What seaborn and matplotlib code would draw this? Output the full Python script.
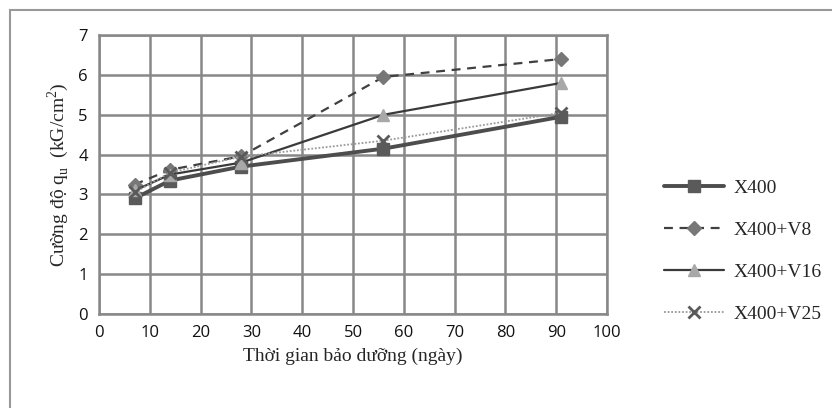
import matplotlib
matplotlib.use("Agg")
import matplotlib.pyplot as plt
import seaborn as sns
import pandas as pd
from matplotlib.patches import Rectangle

days = [7, 14, 28, 56, 91]
x400 = [2.9, 3.35, 3.7, 4.15, 4.95]
x400_v8 = [3.25, 3.62, 3.96, 5.95, 6.4]
x400_v16 = [3.1, 3.5, 3.8, 5.0, 5.8]
x400_v25 = [3.05, 3.55, 3.95, 4.35, 5.05]
series_names = ["X400", "X400+V8", "X400+V16", "X400+V25"]
x_ticks = [0, 10, 20, 30, 40, 50, 60, 70, 80, 90, 100]
y_ticks = [0, 1, 2, 3, 4, 5, 6, 7]

rows = []
for name, vals in zip(series_names, [x400, x400_v8, x400_v16, x400_v25]):
    for d, v in zip(days, vals):
        rows.append({"day": d, "value": v, "series": name})
df = pd.DataFrame(rows)

sns.set_style("white")
serif = ["Liberation Serif", "DejaVu Serif"]
sans = ["Open Sans", "DejaVu Sans"]

fig = plt.figure(figsize=(8.32, 4.08), dpi=100)
ax = fig.add_axes([0.119, 0.2304, 0.6106, 0.6836])

styles = {
    "X400": dict(color="#4d4d4d", lw=2.8, ls="-", marker="s", mfc="#5a5a5a", mec="#5a5a5a", ms=8),
    "X400+V8": dict(color="#404040", lw=1.6, ls=(0, (4, 3)), marker="D", mfc="#777777", mec="#777777", ms=7),
    "X400+V16": dict(color="#3a3a3a", lw=1.6, ls="-", marker="^", mfc="#a8a8a8", mec="#a8a8a8", ms=9),
    "X400+V25": dict(color="#9a9a9a", lw=1.3, ls=(0, (1, 1)), marker="x", mfc="#5a5a5a", mec="#5a5a5a", ms=8, mew=2),
}

for name in series_names:
    sub = df[df["series"] == name]
    st = styles[name]
    sns.lineplot(data=sub, x="day", y="value", ax=ax, color=st["color"], lw=st["lw"],
                 linestyle=st["ls"], label=name, legend=False)
    line = ax.lines[-1]
    line.set_marker(st["marker"])
    line.set_markerfacecolor(st["mfc"])
    line.set_markeredgecolor(st["mec"])
    line.set_markersize(st["ms"])
    line.set_markeredgewidth(st.get("mew", 1))

ax.set_xlim(0, 100)
ax.set_ylim(0, 7)
ax.set_xticks(x_ticks)
ax.set_yticks(y_ticks)
ax.grid(True, color="#888888", lw=1.8)
ax.set_axisbelow(True)
for sp in ax.spines.values():
    sp.set_color("#888888")
    sp.set_linewidth(1.8)
ax.tick_params(length=0, labelsize=12, pad=8)
for lab in ax.get_xticklabels() + ax.get_yticklabels():
    lab.set_family(sans)
    lab.set_color("#111111")

ax.set_xlabel("Thời gian bảo dưỡng (ngày)", family=serif, fontsize=14, labelpad=5)
ax.set_ylabel("Cường độ q$_\\mathregular{u}$  (kG/cm$^\\mathregular{2}$)", family=serif, fontsize=14, labelpad=5)

handles = ax.lines[:4]
leg = fig.legend(handles=handles, labels=series_names, loc="center left",
                 bbox_to_anchor=(0.798, 0.385), frameon=False,
                 prop={"family": serif, "size": 14}, handlelength=3.1,
                 labelspacing=1.25, handletextpad=0.5, borderaxespad=0, borderpad=0)

# outer chart frame: only left and top edges fall inside the image
fig.patches.append(Rectangle((10 / 832, -0.05), 1.2, (408 - 10) / 408 + 0.05,
                             transform=fig.transFigure, fill=False,
                             edgecolor="#999999", lw=1.5))

fig.savefig("out.png", dpi=100)
